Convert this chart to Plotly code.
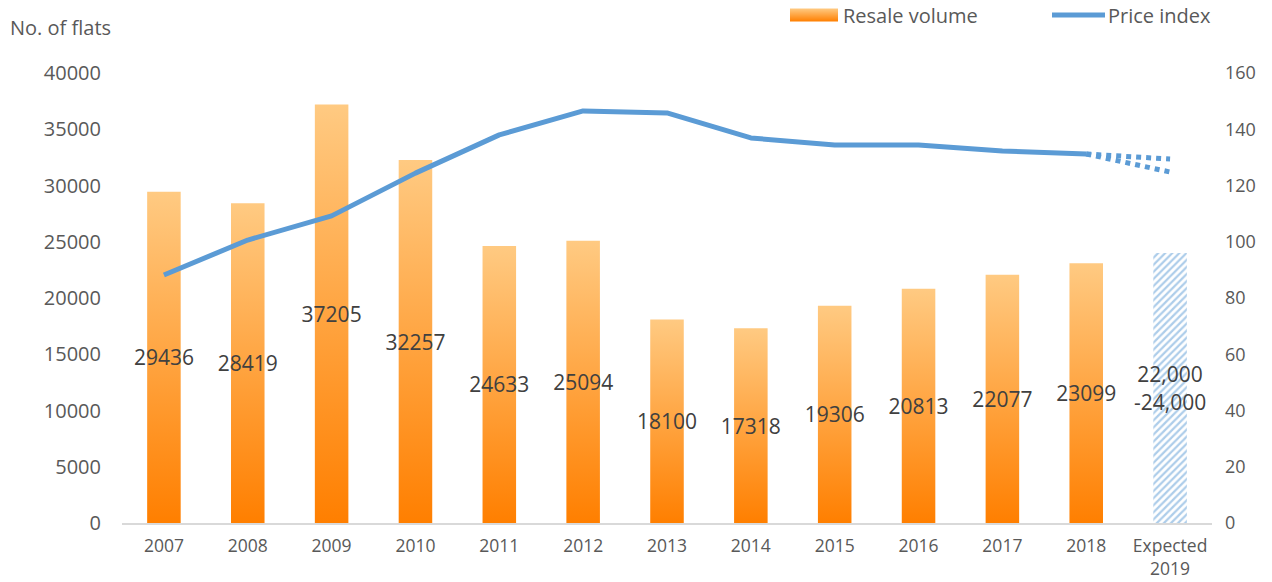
import plotly.graph_objects as go

years = ["2007", "2008", "2009", "2010", "2011", "2012", "2013", "2014",
         "2015", "2016", "2017", "2018"]
expected_cat = "Expected<br>2019"
resale_volume = [29436, 28419, 37205, 32257, 24633, 25094, 18100, 17318,
                 19306, 20813, 22077, 23099]
expected_volume = [24000]
expected_label = ["22,000<br>-24,000"]
price_index = [88.2, 100.6, 109.2, 124.4, 138.0, 146.5, 145.8, 136.9,
               134.4, 134.4, 132.3, 131.2]
proj_high = [131.2, 129.4]
proj_low = [131.2, 124.8]
proj_cats = ["2018", expected_cat]

all_cats = years + [expected_cat]

FONT = "Open Sans"
BLUE = "#5B9BD5"

fig = go.Figure()

fig.add_trace(go.Bar(
    x=years, y=resale_volume, name="Resale volume", width=0.4,
    marker=dict(color="#FFA040", line=dict(width=0)),
    text=[str(v) for v in resale_volume], textposition="inside",
    insidetextanchor="middle", textangle=0, constraintext="none",
    insidetextfont=dict(family=FONT, size=21, color="#404040"),
    showlegend=False, hoverinfo="skip",
))
fig.add_trace(go.Bar(
    x=[expected_cat], y=expected_volume, name="Expected", width=0.4,
    marker=dict(color="white", line=dict(width=0),
                pattern=dict(shape="/", fgcolor=BLUE, bgcolor="white",
                             size=5, solidity=0.45)),
    text=expected_label, textposition="inside", insidetextanchor="middle",
    textangle=0, constraintext="none",
    insidetextfont=dict(family=FONT, size=21, color="#404040"),
    showlegend=False, hoverinfo="skip",
))
fig.add_trace(go.Scatter(
    x=years, y=price_index, yaxis="y2", mode="lines", name="Price index",
    line=dict(color=BLUE, width=5), showlegend=False, hoverinfo="skip",
))
fig.add_trace(go.Scatter(
    x=proj_cats, y=proj_high, yaxis="y2", mode="lines",
    line=dict(color=BLUE, width=5, dash="dot"), showlegend=False, hoverinfo="skip",
))
fig.add_trace(go.Scatter(
    x=proj_cats, y=proj_low, yaxis="y2", mode="lines",
    line=dict(color=BLUE, width=5, dash="dot"), showlegend=False, hoverinfo="skip",
))

L, R, T, B = 122, 60, 73, 59
W, H = 1272, 582
pw = W - L - R
ph = H - T - B

def px(x):
    return (x - L) / pw

def py(y):
    return (H - B - y) / ph

fig.update_layout(
    width=W, height=H,
    margin=dict(l=L, r=R, t=T, b=B, autoexpand=False),
    paper_bgcolor="white", plot_bgcolor="white",
    barmode="overlay",
    font=dict(family=FONT, color="#595959"),
    xaxis=dict(type="category", categoryorder="array", categoryarray=all_cats,
               showline=True, linecolor="#D9D9D9", linewidth=2,
               showgrid=False, ticks="", tickfont=dict(size=17.5, color="#595959"),
               ticklabelstandoff=6, automargin=False),
    yaxis=dict(range=[0, 40000], dtick=5000, tickformat="d", showgrid=False,
               zeroline=False, showline=False, ticks="",
               tickfont=dict(size=20, color="#595959"),
               ticklabelstandoff=20, automargin=False),
    yaxis2=dict(range=[0, 160], dtick=20, overlaying="y", side="right",
                showgrid=False, zeroline=False, showline=False, ticks="",
                tickfont=dict(size=18, color="#595959"), ticklabelstandoff=12,
                automargin=False),
    showlegend=False,
    shapes=[
        dict(type="rect", xref="paper", yref="paper",
             x0=px(790), x1=px(838), y0=py(21.5), y1=py(8.5),
             fillcolor="#FFA040", line=dict(width=0)),
        dict(type="line", xref="paper", yref="paper",
             x0=px(1052), x1=px(1105), y0=py(15), y1=py(15),
             line=dict(color=BLUE, width=5)),
    ],
    annotations=[
        dict(text="Resale volume", xref="paper", yref="paper", x=px(841), y=py(15),
             xanchor="left", yanchor="middle", showarrow=False,
             font=dict(size=20, color="#595959")),
        dict(text="Price index", xref="paper", yref="paper", x=px(1106), y=py(15),
             xanchor="left", yanchor="middle", showarrow=False,
             font=dict(size=20, color="#595959")),
        dict(text="No. of flats", xref="paper", yref="paper", x=px(8), y=py(27),
             xanchor="left", yanchor="middle", showarrow=False,
             font=dict(size=20, color="#595959")),
    ],
)

post = """
document.body.style.margin = '0';
document.body.style.overflow = 'hidden';
var gd = document.getElementById('{plot_id}');
function applyGrad(){
  var ns = 'http://www.w3.org/2000/svg';
  var svg = gd.querySelector('svg.main-svg');
  if(!svg) return;
  var defs = svg.querySelector('defs');
  if(!document.getElementById('orgrad')){
    var lg = document.createElementNS(ns, 'linearGradient');
    lg.setAttribute('id', 'orgrad');
    lg.setAttribute('x1', '0'); lg.setAttribute('y1', '0');
    lg.setAttribute('x2', '0'); lg.setAttribute('y2', '1');
    var s1 = document.createElementNS(ns, 'stop');
    s1.setAttribute('offset', '0'); s1.setAttribute('stop-color', '#FFCA82');
    var s2 = document.createElementNS(ns, 'stop');
    s2.setAttribute('offset', '1'); s2.setAttribute('stop-color', '#FF7F00');
    lg.appendChild(s1); lg.appendChild(s2);
    defs.appendChild(lg);
  }
  var traces = gd.querySelectorAll('.barlayer .trace.bars');
  if(traces.length){
    traces[0].querySelectorAll('path').forEach(function(p){ p.style.fill = 'url(#orgrad)'; });
  }
  var shp = gd.querySelectorAll('.shapelayer path');
  if(shp.length){ shp[0].style.fill = 'url(#orgrad)'; }
  var lines = gd.querySelectorAll('.scatterlayer .js-line');
  lines.forEach(function(l){ l.style.strokeLinejoin = 'round'; });
}
applyGrad();
gd.on('plotly_afterplot', applyGrad);
"""

fig.write_html("out.html", post_script=post, config={"displayModeBar": False})
